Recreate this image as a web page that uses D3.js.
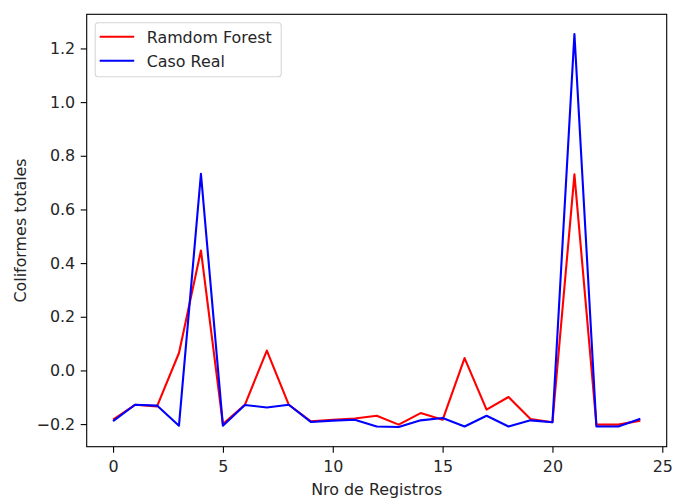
<!DOCTYPE html>
<html>
<head>
<meta charset="utf-8">
<script src="https://cdn.jsdelivr.net/npm/d3@7"></script>
<style>
  html, body { margin: 0; padding: 0; background: #fff; }
  svg { display: block; font-family: "DejaVu Sans", sans-serif; }
</style>
</head>
<body>
<svg id="chart" width="674" height="500"></svg>
<script>
// Record index (0..24)
const registros = d3.range(0, 25);

// Random Forest prediction
const prediccion = [
  -0.183, -0.128, -0.134, 0.065, 0.447, -0.200, -0.128, 0.074, -0.128, -0.190,
  -0.184, -0.179, -0.169, -0.202, -0.159, -0.184, 0.046, -0.146, -0.099, -0.181,
  -0.193, 0.731, -0.202, -0.202, -0.187
];

// Actual measured values
const casoReal = [
  -0.189, -0.128, -0.131, -0.206, 0.733, -0.206, -0.129, -0.138, -0.128, -0.192,
  -0.187, -0.184, -0.209, -0.211, -0.186, -0.177, -0.209, -0.169, -0.209, -0.186,
  -0.193, 1.254, -0.209, -0.209, -0.180
];

const seriesNames = ["Ramdom Forest", "Caso Real"];
const seriesColors = ["#ff0000", "#0000ff"];
const xTicks = [0, 5, 10, 15, 20, 25];
const yTicks = [-0.2, 0.0, 0.2, 0.4, 0.6, 0.8, 1.0, 1.2];

const svg = d3.select("#chart");
const plot = { left: 86.7, right: 666.7, top: 14.3, bottom: 446.7 };
const fontSize = 15.9;

// Axis limits with a 5% margin around the data
const xExt = d3.extent(registros);
const xPad = (xExt[1] - xExt[0]) * 0.05;
const allY = prediccion.concat(casoReal);
const yExt = d3.extent(allY);
const yPad = (yExt[1] - yExt[0]) * 0.05;

const x = d3.scaleLinear().domain([xExt[0] - xPad, xExt[1] + xPad]).range([plot.left, plot.right]);
const y = d3.scaleLinear().domain([yExt[0] - yPad, yExt[1] + yPad]).range([plot.bottom, plot.top]);

// Series lines
const line = d3.line().x((d, i) => x(registros[i])).y(d => y(d));
[prediccion, casoReal].forEach((vals, k) => {
  svg.append("path")
    .datum(vals)
    .attr("d", line)
    .attr("fill", "none")
    .attr("stroke", seriesColors[k])
    .attr("stroke-width", 2.1)
    .attr("stroke-linejoin", "round")
    .attr("stroke-linecap", "butt");
});

// Axes
const fmtY = d => (d < 0 ? "\u2212" : "") + Math.abs(d).toFixed(1);
const xAxis = d3.axisBottom(x).tickValues(xTicks).tickFormat(d3.format("d"))
  .tickSizeInner(6).tickSizeOuter(0).tickPadding(8.5);
const yAxis = d3.axisLeft(y).tickValues(yTicks).tickFormat(fmtY)
  .tickSizeInner(6).tickSizeOuter(0).tickPadding(5.5);

const gx = svg.append("g").attr("transform", `translate(0,${plot.bottom})`).call(xAxis);
const gy = svg.append("g").attr("transform", `translate(${plot.left},0)`).call(yAxis);
[gx, gy].forEach(g => {
  g.select(".domain").remove();
  g.selectAll(".tick line").attr("stroke", "#000").attr("stroke-width", 1.1);
  g.selectAll(".tick text").attr("fill", "#262626").style("font-size", fontSize + "px")
    .style("font-family", "DejaVu Sans, sans-serif");
});

// Frame
svg.append("rect")
  .attr("x", plot.left).attr("y", plot.top)
  .attr("width", plot.right - plot.left).attr("height", plot.bottom - plot.top)
  .attr("fill", "none").attr("stroke", "#000").attr("stroke-width", 1.1);

// Axis titles
svg.append("text")
  .attr("x", (plot.left + plot.right) / 2).attr("y", 494.5)
  .attr("text-anchor", "middle").attr("fill", "#262626")
  .style("font-size", fontSize + "px")
  .text("Nro de Registros");

svg.append("text")
  .attr("transform", `translate(25.5,${(plot.top + plot.bottom) / 2}) rotate(-90)`)
  .attr("text-anchor", "middle").attr("fill", "#262626")
  .style("font-size", fontSize + "px")
  .text("Coliformes totales");

// Legend
const lg = svg.append("g").attr("transform", `translate(${plot.left + 8.5},${plot.top + 8.5})`);
lg.append("rect")
  .attr("width", 186).attr("height", 54).attr("rx", 3)
  .attr("fill", "#fff").attr("fill-opacity", 0.8)
  .attr("stroke", "#d6d6d6").attr("stroke-width", 1.1);
seriesNames.forEach((name, i) => {
  const yy = 14 + i * 24;
  lg.append("line")
    .attr("x1", 4.5).attr("x2", 39).attr("y1", yy).attr("y2", yy)
    .attr("stroke", seriesColors[i]).attr("stroke-width", 2.1);
  lg.append("text")
    .attr("x", 51.5).attr("y", yy).attr("dy", "0.36em")
    .attr("fill", "#262626").style("font-size", fontSize + "px")
    .text(name);
});
</script>
</body>
</html>
